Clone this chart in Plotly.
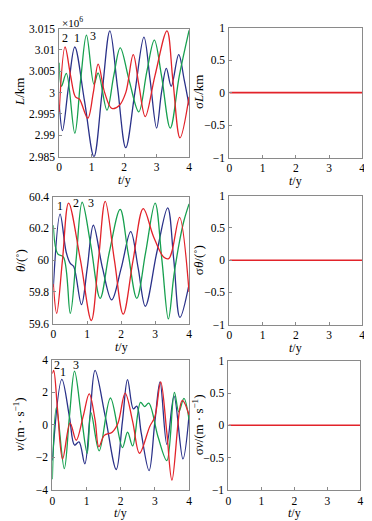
import plotly.graph_objects as go

# ---------------- data ----------------
# Panel 1: L (x10^6 km)
L1_t = [0, 0.1, 0.28, 0.48, 0.78, 1.07, 1.32, 1.56, 1.8, 2.05, 2.33, 2.61, 2.8, 3.0, 3.15, 3.3, 3.45, 3.68, 3.85, 4.0]
L1_v = [2.9972, 2.9911, 3.001, 3.0107, 2.998, 2.985, 3.0, 3.0145, 3.001, 2.9871, 3.0, 3.013, 3.003, 2.9917, 3.0, 3.0057, 3.0015, 3.0089, 3.003, 2.997]
L2_t = [0, 0.18, 0.35, 0.5, 0.62, 0.88, 1.05, 1.2, 1.4, 1.62, 1.85, 2.05, 2.28, 2.45, 2.65, 2.95, 3.32, 3.5, 3.72, 4.0]
L2_v = [2.9955, 3.0107, 3.004, 2.999, 2.9985, 2.994, 3.0, 3.0067, 3.0, 2.9963, 2.997, 3.0, 3.0089, 3.002, 2.9944, 3.004, 3.0145, 3.003, 2.9894, 2.999]
L3_t = [0, 0.07, 0.22, 0.48, 0.66, 0.84, 1.07, 1.2, 1.47, 1.68, 1.88, 2.15, 2.45, 2.7, 2.93, 3.15, 3.42, 3.7, 4.0]
L3_v = [3.007, 3.0015, 3.0045, 2.9905, 3.003, 3.0135, 3.002, 3.0046, 2.9959, 3.004, 3.0105, 3.003, 2.9955, 3.005, 3.0123, 3.004, 2.9917, 3.004, 3.0146]

# Panel 2: theta (deg)
TH1_t = [0, 0.2, 0.38, 0.5, 0.6, 0.83, 1.0, 1.18, 1.45, 1.72, 2.0, 2.28, 2.5, 2.71, 3.05, 3.37, 3.55, 3.73, 4.0]
TH1_v = [59.83, 60.29, 60.05, 59.98, 59.96, 59.72, 59.95, 60.22, 59.95, 59.75, 59.95, 60.18, 59.95, 59.71, 60.05, 60.33, 60.0, 59.64, 59.85]
TH2_t = [0, 0.1, 0.27, 0.45, 0.8, 1.12, 1.33, 1.53, 1.8, 2.06, 2.35, 2.65, 2.95, 3.25, 3.4, 3.5, 3.72, 4.0]
TH2_v = [59.85, 59.665, 60.0, 60.36, 60.0, 59.62, 60.0, 60.37, 60.0, 59.66, 60.0, 60.325, 60.15, 60.02, 60.01, 60.06, 60.27, 59.8]
TH3_t = [0, 0.13, 0.3, 0.5, 0.67, 0.85, 1.1, 1.38, 1.65, 1.97, 2.2, 2.46, 2.72, 3.0, 3.2, 3.39, 3.55, 3.72, 3.85, 4.0]
TH3_v = [60.22, 60.04, 60.02, 59.665, 60.0, 60.365, 60.1, 59.76, 60.05, 60.32, 60.05, 59.76, 60.05, 60.36, 60.0, 59.63, 59.9, 60.12, 60.25, 60.355]

# Panel 3: v (m/s)
V1_t = [0, 0.28, 0.5, 0.65, 0.78, 0.95, 1.1, 1.25, 1.55, 1.87, 2.05, 2.2, 2.37, 2.47, 2.6, 2.83, 3.0, 3.15, 3.35, 3.56, 3.82, 4.0]
V1_v = [-2.2, 2.8, 0.5, -1.25, -1.05, -2.4, 0.5, 3.35, 0.5, -2.75, 0.2, 2.78, 0.98, 1.15, -0.5, -2.82, 0.2, 2.65, -1.2, 1.77, -2.1, 0.6]
V2_t = [0, 0.04, 0.15, 0.3, 0.52, 0.7, 0.9, 1.08, 1.25, 1.36, 1.52, 1.75, 1.92, 2.13, 2.35, 2.55, 2.85, 3.0, 3.17, 3.35, 3.5, 3.8, 4.0]
V2_v = [3.15, 3.35, 1.0, -2.1, 0.1, -0.95, 0.5, 1.9, 0.3, -1.35, -0.65, -0.45, 0.1, 1.95, 0.2, -1.75, -0.1, 0.5, 2.65, -0.5, -3.4, 1.5, 0.6]
V3_t = [0, 0.12, 0.35, 0.5, 0.65, 0.85, 1.02, 1.13, 1.37, 1.7, 2.05, 2.2, 2.35, 2.58, 2.7, 2.82, 3.1, 3.35, 3.57, 3.7, 3.85, 4.0]
V3_v = [-3.35, 1.05, -2.7, 0.5, 3.3, 0.5, -1.75, 0.75, -1.6, 1.65, -1.4, -0.45, -1.3, 1.38, 1.12, 1.33, -0.8, -2.2, 2.0, 0.8, 1.63, 0.3]

# Right panels: sigma (all zero)
S_t = [0, 4]
S_v = [0, 0]

X_TICKS = [0, 1, 2, 3, 4]
L_TICKS = [2.985, 2.99, 2.995, 3.0, 3.005, 3.01, 3.015]
L_TICKTEXT = ["2.985", "2.99", "2.995", "3", "3.005", "3.01", "3.015"]
TH_TICKS = [59.6, 59.8, 60.0, 60.2, 60.4]
TH_TICKTEXT = ["59.6", "59.8", "60", "60.2", "60.4"]
V_TICKS = [-4, -2, 0, 2, 4]
S_TICKS = [-1, -0.5, 0, 0.5, 1]

BLUE = "#2a3189"
RED = "#e2232a"
GREEN = "#17a04f"

W, H = 372, 521
FONT = "Liberation Serif"

def px(x):
    return x / W

def py(y):
    return 1 - y / H

# panel boxes in pixels: (left, right, top, bottom)
boxes = [
    (49, 181, 15, 146),    # L
    (222, 357, 14, 147),   # sigma L
    (43, 181, 187, 317),   # theta
    (222, 357, 186, 318),  # sigma theta
    (42, 181, 354, 487),   # v
    (221, 355, 355, 487),  # sigma v
]

fig = go.Figure()

def add(t, v, color, idx, width=1.3):
    xa = "x" if idx == 0 else f"x{idx+1}"
    ya = "y" if idx == 0 else f"y{idx+1}"
    fig.add_trace(go.Scatter(x=t, y=v, mode="lines", line=dict(color=color, width=width, shape="spline", smoothing=1.0),
                             xaxis=xa, yaxis=ya, showlegend=False, hoverinfo="skip"))

add(L1_t, L1_v, BLUE, 0); add(L3_t, L3_v, GREEN, 0); add(L2_t, L2_v, RED, 0)
add(S_t, S_v, RED, 1, 1.6)
add(TH1_t, TH1_v, BLUE, 2); add(TH3_t, TH3_v, GREEN, 2); add(TH2_t, TH2_v, RED, 2)
add(S_t, S_v, RED, 3, 1.6)
add(V1_t, V1_v, BLUE, 4); add(V3_t, V3_v, GREEN, 4); add(V2_t, V2_v, RED, 4)
add(S_t, S_v, RED, 5, 1.6)

axis_common = dict(showline=True, mirror=True, linecolor="#8a8a8a", linewidth=1, ticks="inside", ticklen=3,
                   tickcolor="#8a8a8a", showgrid=False, zeroline=False,
                   tickfont=dict(family=FONT, size=11.5, color="black"))

yspecs = [
    dict(range=[2.985, 3.015], tickvals=L_TICKS, ticktext=L_TICKTEXT),
    dict(range=[-1, 1], tickvals=S_TICKS),
    dict(range=[59.6, 60.4], tickvals=TH_TICKS, ticktext=TH_TICKTEXT),
    dict(range=[-1, 1], tickvals=S_TICKS),
    dict(range=[-4, 4], tickvals=V_TICKS),
    dict(range=[-1, 1], tickvals=S_TICKS),
]

layout = dict(width=W, height=H, margin=dict(l=0, r=0, t=0, b=0), paper_bgcolor="white", plot_bgcolor="white",
              showlegend=False, font=dict(family=FONT, size=12, color="black"))
for i, (l, r, t, b) in enumerate(boxes):
    xk = "xaxis" if i == 0 else f"xaxis{i+1}"
    yk = "yaxis" if i == 0 else f"yaxis{i+1}"
    ya_ref = "y" if i == 0 else f"y{i+1}"
    xa_ref = "x" if i == 0 else f"x{i+1}"
    layout[xk] = dict(domain=[px(l), px(r)], range=[0, 4], tickvals=X_TICKS, anchor=ya_ref,
                      ticklabelstandoff=0, **axis_common)
    layout[yk] = dict(domain=[py(b), py(t)], anchor=xa_ref, ticklabelstandoff=1, **yspecs[i], **axis_common)

fig.update_layout(**layout)

ann = []
def text(x, y, s, size=13, angle=0):
    ann.append(dict(x=px(x), y=py(y), xref="paper", yref="paper", text=s, showarrow=False, textangle=angle,
                    font=dict(family=FONT, size=size, color="black"), xanchor="center", yanchor="middle"))

# x titles
for (l, r, t, b) in boxes:
    text((l + r) / 2, b + 24, "<i>t</i>/y", 12)

# y titles
text(8, 80, "<i>L</i>/km", 13, -90)
text(190, 80, "σ<i>L</i>/km", 13, -90)
text(9, 252, "<i>θ</i>/(˚)", 13, -90)
text(190, 252, "σ<i>θ</i>/(˚)", 13, -90)
text(8, 420, "<i>v</i>/(m · s<sup>−1</sup>)", 13, -90)
text(190, 420, "σ<i>v</i>/(m · s<sup>−1</sup>)", 13, -90)

# x10^6
text(62, 8, "×10<sup>6</sup>", 11)

# curve numbers
text(55, 25, "2", 12); text(67, 25, "1", 12); text(83, 23, "3", 12)
text(50, 197, "1", 12); text(66, 193, "2", 12); text(81, 193, "3", 12)
text(47, 359, "2", 12); text(53, 366, "1", 12); text(66, 359, "3", 12)

fig.update_layout(annotations=ann)
fig.write_html("out.html")
